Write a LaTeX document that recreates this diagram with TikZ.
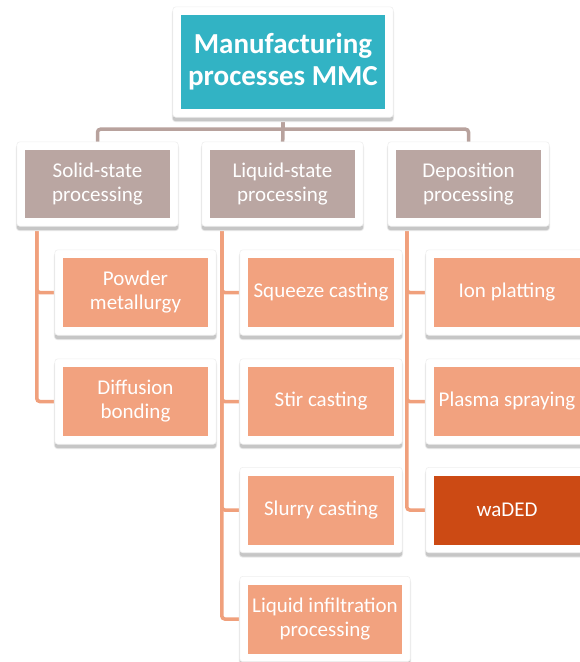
\documentclass[tikz,border=0pt]{standalone}
\usepackage{fontspec}
\setmainfont{Carlito}
\definecolor{teal1}{RGB}{50,179,196}
\definecolor{brown1}{RGB}{186,166,162}
\definecolor{orange1}{RGB}{242,162,127}
\definecolor{dark1}{RGB}{204,74,20}
\definecolor{brownline}{RGB}{184,162,157}
\definecolor{orangeline}{RGB}{240,160,124}
\pgfdeclarelayer{bg}
\pgfdeclarelayer{frames}
\pgfsetlayers{bg,frames,main}
\tikzset{
  box/.style={inner sep=0pt, align=center, text=white, font=\fontsize{21}{24}\selectfont},
  topbox/.style={box, fill=teal1, minimum width=204pt, minimum height=94pt, font=\bfseries\fontsize{29}{32}\selectfont},
  lvltwo/.style={box, fill=brown1, minimum width=145pt, minimum height=68pt},
  lvlthree/.style={box, fill=orange1, minimum width=146pt, minimum height=69pt},
  bline/.style={draw=brownline, line width=3.5pt, rounded corners=3pt},
  oline/.style={draw=orangeline, line width=3.5pt, rounded corners=3pt},
}
\newcommand\myframebox[1]{%
  \fill[gray!18, rounded corners=4pt] ([shift={(-9pt,-13pt)}]#1.south west) rectangle ([shift={(9pt,6pt)}]#1.north east);
  \fill[gray!45, rounded corners=3pt] ([shift={(-8pt,-12pt)}]#1.south west) rectangle ([shift={(8pt,4pt)}]#1.north east);
  \filldraw[fill=white, draw=gray!12, line width=0.6pt, rounded corners=3pt] ([shift={(-8pt,-8pt)}]#1.south west) rectangle ([shift={(8pt,8pt)}]#1.north east);
}
\begin{document}
\begin{tikzpicture}[x=1pt, y=-1pt]
\useasboundingbox (0,0) rectangle (579,662);
% top
\node[topbox] (top) at (283,62) {Manufacturing\\processes MMC};
% level 2
\node[lvltwo] (solid) at (97.5,184) {Solid-state\\processing};
\node[lvltwo] (liquid) at (282.5,184) {Liquid-state\\processing};
\node[lvltwo] (depo) at (468.5,184) {Deposition\\processing};
% level 3 solid
\node[lvlthree, minimum width=145pt] (pm) at (135.5,292.5) {Powder\\metallurgy};
\node[lvlthree, minimum width=145pt] (db) at (135.5,401.5) {Diffusion\\bonding};
% level 3 liquid
\node[lvlthree] (sq) at (321,292.5) {Squeeze casting};
\node[lvlthree] (st) at (321,401.5) {Stir casting};
\node[lvlthree] (sl) at (321,510) {Slurry casting};
\node[lvlthree, minimum width=154pt] (li) at (325,619) {Liquid infiltration\\processing};
% level 3 deposition
\node[lvlthree] (ion) at (507,292.5) {Ion platting};
\node[lvlthree] (ps) at (507,401.5) {Plasma spraying};
\node[lvlthree, fill=dark1] (wa) at (507,510) {waDED};
% frames
\begin{pgfonlayer}{frames}
\foreach \n in {top,solid,liquid,depo,pm,db,sq,st,sl,li,ion,ps,wa} {\myframebox{\n}}
\end{pgfonlayer}
% connectors
\begin{pgfonlayer}{bg}
\draw[bline] (top.south) -- ++(0,20) coordinate (hub);
\draw[bline] (hub) -| (solid.north);
\draw[bline] (hub) -| (depo.north);
\draw[bline] (hub) -- (liquid.north);
\draw[oline] ([xshift=12pt]solid.south west) |- (pm.west);
\draw[oline] ([xshift=12pt]solid.south west) |- (db.west);
\draw[oline] ([xshift=12pt]liquid.south west) |- (sq.west);
\draw[oline] ([xshift=12pt]liquid.south west) |- (st.west);
\draw[oline] ([xshift=12pt]liquid.south west) |- (sl.west);
\draw[oline] ([xshift=12pt]liquid.south west) |- (li.west);
\draw[oline] ([xshift=11pt]depo.south west) |- (ion.west);
\draw[oline] ([xshift=11pt]depo.south west) |- (ps.west);
\draw[oline] ([xshift=11pt]depo.south west) |- (wa.west);
\end{pgfonlayer}
\end{tikzpicture}
\end{document}
